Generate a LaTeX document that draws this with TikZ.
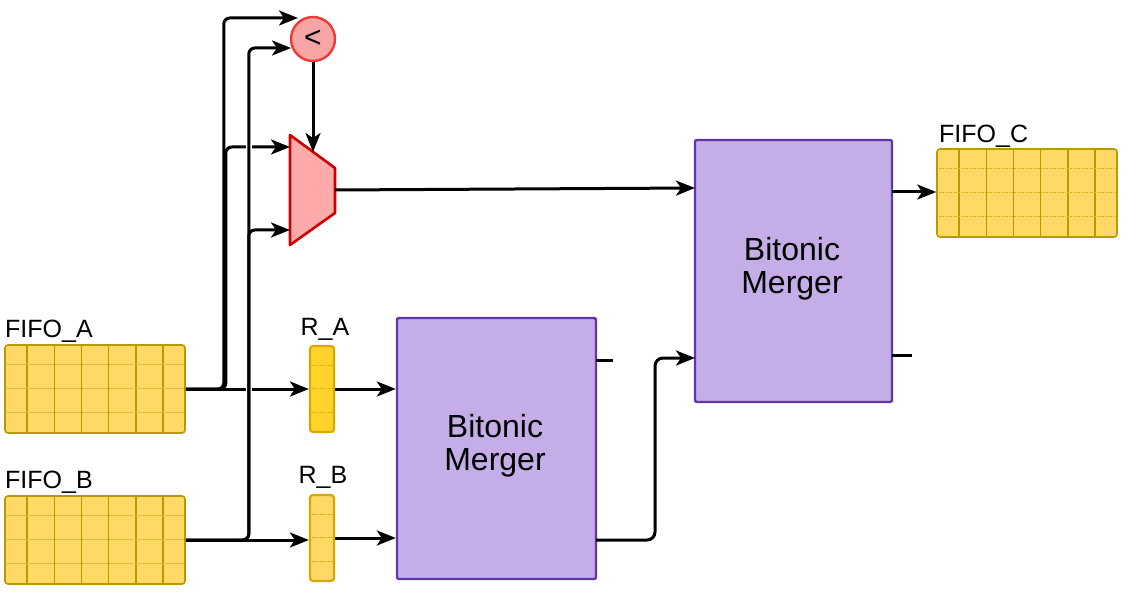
\documentclass[tikz,border=0pt]{standalone}
\usepackage{fontspec}
\setmainfont{Liberation Sans}
\usetikzlibrary{arrows.meta,calc}
\definecolor{fifofill}{HTML}{FFD966}
\definecolor{fifostroke}{HTML}{B89A00}
\definecolor{fifoline}{HTML}{D4B020}
\definecolor{regfill}{HTML}{FFD42A}
\definecolor{regstroke}{HTML}{D6A800}
\definecolor{bmfill}{HTML}{C5AEE8}
\definecolor{bmstroke}{HTML}{6236A8}
\definecolor{muxfill}{HTML}{FFAAAA}
\definecolor{muxstroke}{HTML}{CC0000}
\definecolor{cmpfill}{HTML}{F8A5A5}
\definecolor{cmpstroke}{HTML}{F03A3A}
\tikzset{
  cells/.style={path picture={
    \foreach \f in {#1}{
      \draw[fifostroke,line width=1.3pt]
        ($(path picture bounding box.north west)!\f!(path picture bounding box.north east)$) --
        ($(path picture bounding box.south west)!\f!(path picture bounding box.south east)$);}
    \foreach \g in {0.22,0.49,0.77}{
      \draw[fifoline,line width=0.6pt,densely dotted]
        ($(path picture bounding box.north west)!\g!(path picture bounding box.south west)$) --
        ($(path picture bounding box.north east)!\g!(path picture bounding box.south east)$);}
  }},
  fifo/.style={draw=fifostroke,fill=fifofill,line width=1.6pt,rounded corners=3pt,
    minimum width=180pt,minimum height=88pt,inner sep=0pt,
    cells={0.122,0.274,0.425,0.576,0.728,0.878}},
  reg/.style={draw=regstroke,fill=#1,line width=2.2pt,rounded corners=3pt,
    minimum width=24pt,minimum height=86pt,inner sep=0pt,cells={}},
  merger/.style={draw=bmstroke,fill=bmfill,line width=2.4pt,rounded corners=2pt,inner sep=0pt},
  mtext/.style={inner sep=0pt,align=center,font=\fontsize{32}{33}\selectfont},
  lbl/.style={font=\fontsize{25}{28}\selectfont,inner sep=0pt},
  wire/.style={line width=3pt,line cap=butt},
  arr/.style={wire,-{Stealth[length=19pt,width=15pt,inset=5pt]}},
  casing/.style={white,line width=6pt},
}
\begin{document}
\begin{tikzpicture}[x=1pt,y=-1pt]
\useasboundingbox (0,0) rectangle (1134,609);

% FIFOs
\node[fifo] (fa) at (95,389) {};
\node[fifo] (fb) at (95,540) {};
\node[fifo] (fc) at (1027,193) {};
\node[lbl,anchor=base west] (fal) at (5,337) {FIFO\_A};
\node[lbl,anchor=base west] (fbl) at (5,488) {FIFO\_B};
\node[lbl,anchor=base west] (fcl) at (939,143) {FIFO\_C};

% registers
\node[reg=regfill] (ra) at (322,389) {};
\node[reg=fifofill] (rb) at (322,538) {};
\node[lbl,anchor=base] (ral) at (325,335) {R\_A};
\node[lbl,anchor=base] (rbl) at (323,483) {R\_B};

% mergers
\node[merger,minimum width=199pt,minimum height=261pt] (bm1) at (496.5,448.5) {};
\node[mtext] (bm1t) at (495,446) {Bitonic\\Merger};
\node[merger,minimum width=197pt,minimum height=262pt] (bm2) at (793.5,271) {};
\node[mtext] (bm2t) at (792,269) {Bitonic\\Merger};

% comparator
\node[circle,draw=cmpstroke,fill=cmpfill,line width=2.4pt,minimum size=44pt,inner sep=0pt,
  font=\fontsize{30}{30}\selectfont] (cmp) at (313,39) {<};

% multiplexer
\coordinate (m1) at (290,135);
\coordinate (m2) at (335,168);
\coordinate (m3) at (335,213);
\coordinate (m4) at (290,245);
\draw[draw=muxstroke,fill=muxfill,line width=2.6pt,line join=round] (m1) -- (m2) -- (m3) -- (m4) -- cycle;
\coordinate (muxtop) at (313,152);
\coordinate (muxin1) at (290,147);
\coordinate (muxin2) at (290,230);
\coordinate (muxout) at (335,190);

% connector end points
\coordinate (cin1) at (298,18);
\coordinate (cin2) at (291,48);
\coordinate (bm2in1) at (695,188);
\coordinate (bm2in2) at (695,358);
\coordinate (bm1in1) at (bm1.west |- ra.east);
\coordinate (bm1in2) at (bm1.west |- rb.east);
\coordinate (bm1out) at (596,540);
\coordinate (s1a) at (596,360);
\coordinate (s1b) at (613,360);
\coordinate (s2a) at (892,355);
\coordinate (s2b) at (912,355);
\coordinate (bm2out) at (892,192);

% FIFO_A branches
\draw[arr,rounded corners=6pt] (fa.east) -- ++(38,0) |- (cin1);
\draw[arr,rounded corners=6pt] (fa.east) -- ++(40,0) |- (muxin1);
\draw[arr] (fa.east) -- (ra.west);

% FIFO_B branches (over the crossings)
\draw[casing,rounded corners=6pt] ([xshift=50pt]fb.east) -- ++(13,0) |- ([xshift=-8pt]cin2);
\draw[arr,rounded corners=6pt] (fb.east) -- ++(63,0) |- (cin2);
\draw[arr,rounded corners=6pt] (fb.east) -- ++(63,0) |- (muxin2);
\draw[arr] (fb.east) -- (rb.west |- fb.east);

% comparator to mux, mux to merger
\draw[arr] (cmp.south) -- (muxtop);
\draw[arr] (muxout) -- (bm2in1);

% registers to merger 1
\draw[arr] (ra.east) -- (bm1in1);
\draw[arr] (rb.east) -- (bm1in2);

% merger 1 to merger 2
\draw[arr,rounded corners=8pt] (bm1out) -- ++(59,0) |- (bm2in2);
\draw[wire] (s1a) -- (s1b);
\draw[wire] (s2a) -- (s2b);

% merger 2 to FIFO_C
\draw[arr] (bm2out) -- (fc.west |- bm2out);
\end{tikzpicture}
\end{document}
